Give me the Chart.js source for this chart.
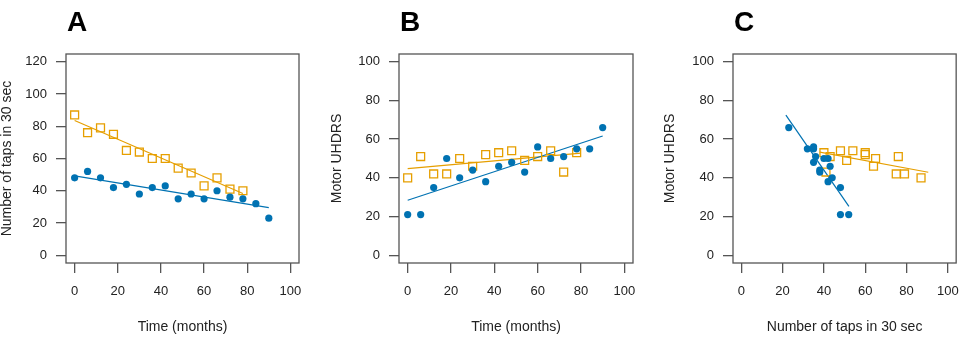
<!DOCTYPE html>
<html>
<head>
<meta charset="utf-8">
<script src="https://cdn.jsdelivr.net/npm/chart.js@4.4.1/dist/chart.umd.min.js"></script>
<style>
  body { margin: 0; background: #fff; width: 970px; height: 343px; position: relative; overflow: hidden; }
  canvas { position: absolute; top: 0; }
</style>
</head>
<body>
<canvas id="panelA" width="320" height="343" style="left:0px"></canvas>
<canvas id="panelB" width="320" height="343" style="left:330px"></canvas>
<canvas id="panelC" width="307" height="343" style="left:663px"></canvas>
<script>
// time points (months)
const monthsBlue = [0, 6, 12, 18, 24, 30, 36, 42, 48, 54, 60, 66, 72, 78, 84, 90];
const monthsOrange = [0, 6, 12, 18, 24, 30, 36, 42, 48, 54, 60, 66, 72, 78];

// number of taps in 30 sec
const tapsBlue = [48, 52, 48, 42, 44, 38, 42, 43, 35, 38, 35, 40, 36, 35, 32, 23];
const tapsOrange = [87, 76, 79, 75, 65, 64, 60, 60, 54, 51, 43, 48, 41, 40];

// motor UHDRS
const uhdrsBlue = [21, 21, 35, 50, 40, 44, 38, 46, 48, 43, 56, 50, 51, 55, 55, 66];
const uhdrsOrange = [40, 51, 42, 42, 50, 46, 52, 53, 54, 49, 51, 54, 43, 53];

// fitted lines, end points
const fitA_blue = [[0, 49.2], [90, 29.5]];
const fitA_orange = [[0, 83.6], [78, 38.3]];
const fitB_blue = [[0, 28.4], [90, 61.6]];
const fitB_orange = [[0, 44.8], [80, 52.8]];
const fitC_blue = [[21.6, 72.4], [52.1, 25.3]];
const fitC_orange = [[38, 53.3], [90.5, 42.9]];

// tick labels
const xTicks = [0, 20, 40, 60, 80, 100];
const tapsTicks = [0, 20, 40, 60, 80, 100, 120];
const uhdrsTicks = [0, 20, 40, 60, 80, 100];

const BLUE = "#0072B2";
const ORANGE = "#E69F00";

Chart.defaults.font.family = "'Liberation Sans', Arial, sans-serif";
Chart.defaults.color = "#222";

function pts(xs, ys) {
  return xs.map((x, i) => ({ x: x, y: ys[i] }));
}
function line(pair) {
  return pair.map(p => ({ x: p[0], y: p[1] }));
}

const boxPlugin = {
  id: "box",
  afterDraw(chart, args, opts) {
    const ctx = chart.ctx;
    const a = chart.chartArea;
    ctx.save();
    ctx.strokeStyle = "#555";
    ctx.lineWidth = 1.3;
    ctx.strokeRect(a.left, a.top, a.right - a.left, a.bottom - a.top);
    ctx.font = "bold 28px 'Liberation Sans', Arial, sans-serif";
    ctx.fillStyle = "#000";
    ctx.textBaseline = "middle";
    ctx.fillText(opts.letter, a.left + 1, 23);
    ctx.restore();
  },
};

function scatterSet(data, color, square) {
  return {
    data: data,
    pointStyle: square ? "rect" : "circle",
    pointRadius: square ? 5.6 : 3.6,
    pointBackgroundColor: square ? "rgba(0,0,0,0)" : color,
    pointBorderColor: color,
    pointBorderWidth: square ? 1.3 : 0,
    showLine: false,
  };
}
function lineSet(data, color) {
  return {
    data: data,
    showLine: true,
    borderColor: color,
    borderWidth: 1.2,
    pointRadius: 0,
    fill: false,
  };
}

function makeChart(id, letter, datasets, yTicks, yMin, yMax, xTitle, yTitle, axisWidth, padRight) {
  return new Chart(document.getElementById(id).getContext("2d"), {
    type: "scatter",
    data: { datasets: datasets },
    plugins: [boxPlugin],
    options: {
      responsive: false,
      animation: false,
      layout: { padding: { top: 54, right: padRight, left: 0, bottom: 0 } },
      plugins: {
        legend: { display: false },
        tooltip: { enabled: false },
        box: { letter: letter },
      },
      scales: {
        x: {
          type: "linear",
          min: -4,
          max: 104,
          afterBuildTicks: s => { s.ticks = xTicks.map(v => ({ value: v })); },
          afterFit: s => { s.height = 80; },
          ticks: { padding: 11, font: { size: 13 }, autoSkip: false, maxRotation: 0 },
          grid: { drawOnChartArea: false, tickLength: 10, color: "#555", lineWidth: 1.3 },
          border: { display: false },
          title: { display: true, text: xTitle, font: { size: 14, lineHeight: 1 }, padding: { top: 0, bottom: 9 } },
        },
        y: {
          type: "linear",
          min: yMin,
          max: yMax,
          afterBuildTicks: s => { s.ticks = yTicks.map(v => ({ value: v })); },
          afterFit: s => { s.width = axisWidth; },
          ticks: { padding: 9, font: { size: 13 } },
          grid: { drawOnChartArea: false, tickLength: 10, color: "#555", lineWidth: 1.3 },
          border: { display: false },
          title: { display: true, text: yTitle, font: { size: 14, lineHeight: 1 }, padding: { top: 0, bottom: 0 } },
        },
      },
    },
  });
}

/* A : taps over time */
makeChart("panelA", "A", [
  scatterSet(pts(monthsBlue, tapsBlue), BLUE, false),
  scatterSet(pts(monthsOrange, tapsOrange), ORANGE, true),
  lineSet(line(fitA_blue), BLUE),
  lineSet(line(fitA_orange), ORANGE),
], tapsTicks, -4.8, 124.8, "Time (months)", "Number of taps in 30 sec", 66, 21);

/* B : UHDRS over time */
makeChart("panelB", "B", [
  scatterSet(pts(monthsBlue, uhdrsBlue), BLUE, false),
  scatterSet(pts(monthsOrange, uhdrsOrange), ORANGE, true),
  lineSet(line(fitB_blue), BLUE),
  lineSet(line(fitB_orange), ORANGE),
], uhdrsTicks, -4, 104, "Time (months)", "Motor UHDRS", 69, 17);

/* C : UHDRS vs taps */
makeChart("panelC", "C", [
  scatterSet(pts(tapsBlue, uhdrsBlue), BLUE, false),
  scatterSet(pts(tapsOrange, uhdrsOrange), ORANGE, true),
  lineSet(line(fitC_blue), BLUE),
  lineSet(line(fitC_orange), ORANGE),
], uhdrsTicks, -4, 104, "Number of taps in 30 sec", "Motor UHDRS", 70, 4);
</script>
</body>
</html>
